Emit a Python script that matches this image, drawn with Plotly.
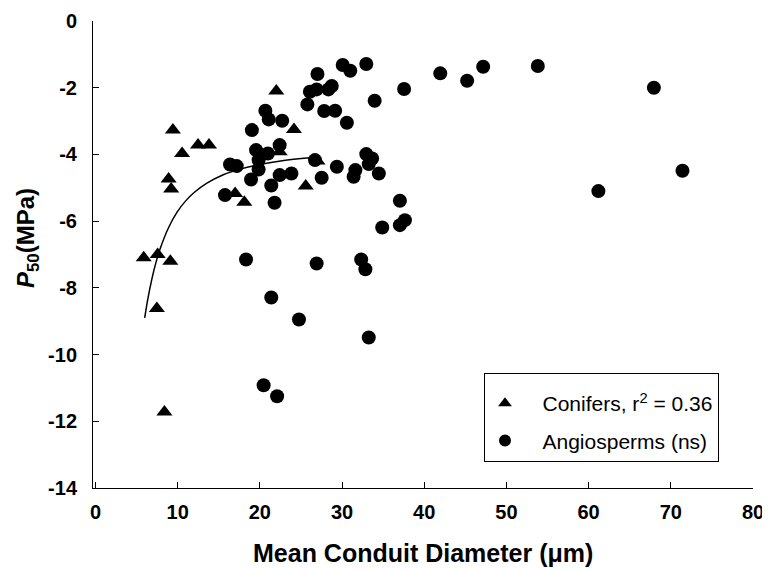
import plotly.graph_objects as go

# Conifers (triangles)
conifer_x = [5.87, 7.57, 9.11, 7.47, 8.39, 8.90, 9.21, 9.42, 10.54, 12.48, 13.81, 16.99, 18.11,
             22.00, 22.41, 24.15, 25.58, 27.01]
conifer_y = [-7.1, -7.0, -7.2, -8.62, -11.72, -4.74, -5.04, -3.27, -3.97, -3.72, -3.72,
             -5.17, -5.43, -2.10, -3.92, -3.25, -4.95, -4.2]

# Angiosperms (circles)
angio_x = [15.76, 16.37, 17.19, 18.32, 18.93, 19.03, 19.54, 19.85, 19.85, 20.46, 20.67, 20.98,
           21.08, 21.39, 21.39, 21.79, 22.10, 22.41, 22.41, 22.72, 23.84, 24.76, 25.78, 26.09,
           26.71, 26.91, 26.91, 27.01, 27.52, 27.83, 28.34, 28.75, 29.16, 29.37, 30.08, 30.59,
           31.00, 31.41, 31.62, 32.33, 32.84, 32.95, 32.95, 33.25, 33.25, 33.66, 33.97, 34.48,
           34.89, 37.04, 37.04, 37.55, 37.65, 41.95, 45.22, 47.17, 53.82, 61.19, 67.94, 71.42]
angio_y = [-5.22, -4.30, -4.35, -7.15, -4.75, -3.27, -3.87, -4.17, -4.45, -10.92, -2.69,
           -3.97, -2.95, -4.93, -8.29, -5.45, -11.25, -3.72, -4.62, -2.99, -4.57, -8.95,
           -2.50, -2.12, -4.17, -2.05, -7.27, -1.59, -4.70, -2.70, -2.05, -1.95, -2.69,
           -4.37, -1.32, -3.05, -1.49, -4.67, -4.47, -7.15, -7.44, -1.29, -3.99, -4.29,
           -9.49, -4.12, -2.39, -4.57, -6.19, -5.39, -6.12, -2.04, -5.97, -1.57, -1.79,
           -1.37, -1.35, -5.10, -2.0, -4.49]

# Conifer regression curve
fit_x = [5.99, 6.35, 6.86, 7.37, 7.88, 8.90, 9.93, 10.95, 11.97, 13.51, 15.55, 17.60,
         19.65, 22.72, 26.09, 27.11]
fit_y = [-8.90, -8.36, -7.74, -7.23, -6.82, -6.19, -5.73, -5.40, -5.15, -4.87, -4.61, -4.44,
         -4.32, -4.19, -4.10, -4.08]

x_ticks = [0, 10, 20, 30, 40, 50, 60, 70, 80]
y_ticks = [0, -2, -4, -6, -8, -10, -12, -14]

FONT = "Arial, Liberation Sans, sans-serif"
PAD = "\u00a0" * 3

fig = go.Figure()
fig.add_trace(go.Scatter(x=fit_x, y=fit_y, mode="lines",
                         line=dict(color="black", width=1.5, shape="spline", smoothing=0.8),
                         showlegend=False, hoverinfo="skip"))
fig.add_trace(go.Scatter(x=conifer_x, y=conifer_y, mode="markers",
                         name=PAD + "Conifers, r<sup>2</sup> = 0.36",
                         marker=dict(symbol="triangle-up", size=14, color="black"),
                         legendgroup="a"))
fig.add_trace(go.Scatter(x=angio_x, y=angio_y, mode="markers",
                         name=PAD + "Angiosperms (ns)",
                         marker=dict(symbol="circle", size=14, color="black"),
                         legendgroup="b"))

# page body has an 8px margin; figure is sized to fit the window after it
fig.update_layout(
    width=762, height=561,
    margin=dict(l=85, r=17, t=13, b=81),
    paper_bgcolor="white", plot_bgcolor="white",
    font=dict(family=FONT, color="black"),
    legend=dict(x=(484 - 93) / 660, y=(488 - 373) / 467, xanchor="left", yanchor="top",
                bordercolor="black", borderwidth=1, bgcolor="white",
                font=dict(size=21, family=FONT), tracegroupgap=7,
                itemsizing="constant", entrywidth=226,
                title=dict(text="\u00a0", font=dict(size=7))),
    xaxis=dict(range=[-0.3, 80], tickvals=x_ticks, ticktext=[str(v) for v in x_ticks],
               showgrid=False, zeroline=False, showline=True, linecolor="black", linewidth=1,
               ticks="inside", ticklen=6, tickcolor="black", automargin=False,
               ticklabelstandoff=6,
               tickfont=dict(size=20, family=FONT, weight="bold")),
    yaxis=dict(range=[-14, 0], tickvals=y_ticks, ticktext=[str(v) for v in y_ticks],
               showgrid=False, zeroline=False, showline=True, linecolor="black", linewidth=1,
               ticks="inside", ticklen=6, tickcolor="black", ticklabelstandoff=11,
               automargin=False,
               tickfont=dict(size=20, family=FONT, weight="bold")),
    annotations=[
        dict(text="<b>Mean Conduit Diameter (μm)</b>", xref="paper", yref="paper",
             x=0.5, y=(488 - 553) / 467, xanchor="center", yanchor="middle",
             showarrow=False, font=dict(size=25, family=FONT)),
        dict(text="<b><i>P</i><sub>50</sub>(MPa)</b>", xref="paper", yref="paper",
             x=(28 - 93) / 660, y=(488 - 238) / 467, xanchor="center", yanchor="middle",
             textangle=-90, showarrow=False, font=dict(size=24, family=FONT)),
    ],
)

fig.write_html("out.html")
